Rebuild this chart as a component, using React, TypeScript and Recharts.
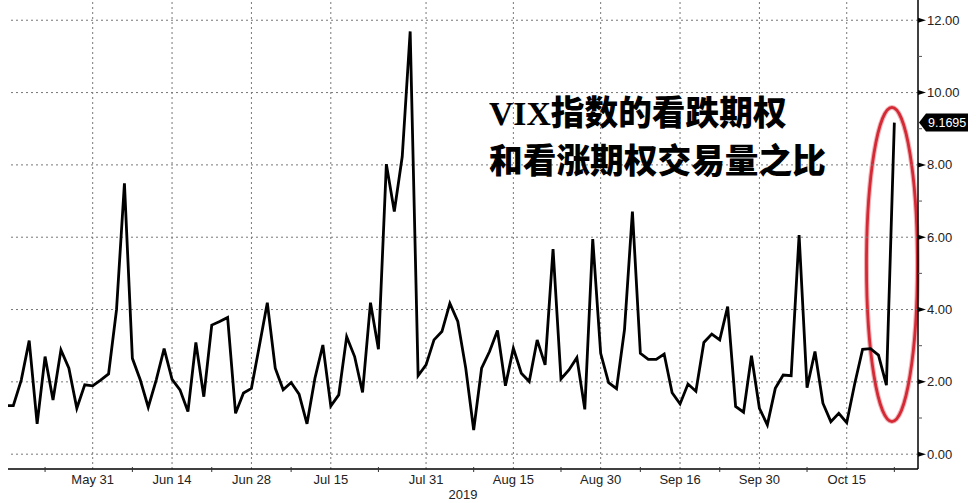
import React from 'react';
import { LineChart, Line, XAxis, YAxis, ReferenceLine, ReferenceArea } from 'recharts';

// trading days, May 15 - Oct 23 2019
const dates = [
  'May 15', 'May 16', 'May 17', 'May 20', 'May 21', 'May 22', 'May 23', 'May 24', 'May 28', 'May 29', 'May 30', 'May 31',
  'Jun 3', 'Jun 4', 'Jun 5', 'Jun 6', 'Jun 7', 'Jun 10', 'Jun 11', 'Jun 12', 'Jun 13', 'Jun 14',
  'Jun 17', 'Jun 18', 'Jun 19', 'Jun 20', 'Jun 21', 'Jun 24', 'Jun 25', 'Jun 26', 'Jun 27', 'Jun 28',
  'Jul 1', 'Jul 2', 'Jul 3', 'Jul 5', 'Jul 8', 'Jul 9', 'Jul 10', 'Jul 11', 'Jul 12', 'Jul 15',
  'Jul 16', 'Jul 17', 'Jul 18', 'Jul 19', 'Jul 22', 'Jul 23', 'Jul 24', 'Jul 25', 'Jul 26', 'Jul 29', 'Jul 30', 'Jul 31',
  'Aug 1', 'Aug 2', 'Aug 5', 'Aug 6', 'Aug 7', 'Aug 8', 'Aug 9', 'Aug 12', 'Aug 13', 'Aug 14', 'Aug 15',
  'Aug 16', 'Aug 19', 'Aug 20', 'Aug 21', 'Aug 22', 'Aug 23', 'Aug 26', 'Aug 27', 'Aug 28', 'Aug 29', 'Aug 30',
  'Sep 3', 'Sep 4', 'Sep 5', 'Sep 6', 'Sep 9', 'Sep 10', 'Sep 11', 'Sep 12', 'Sep 13', 'Sep 16',
  'Sep 17', 'Sep 18', 'Sep 19', 'Sep 20', 'Sep 23', 'Sep 24', 'Sep 25', 'Sep 26', 'Sep 27', 'Sep 30',
  'Oct 1', 'Oct 2', 'Oct 3', 'Oct 4', 'Oct 7', 'Oct 8', 'Oct 9', 'Oct 10', 'Oct 11', 'Oct 14', 'Oct 15',
  'Oct 16', 'Oct 17', 'Oct 18', 'Oct 21', 'Oct 22', 'Oct 23',
];

// put/call volume ratio
const ratio = [
  1.34, 1.34, 2.05, 3.14, 0.84, 2.70, 1.50, 2.88, 2.38, 1.27, 1.92, 1.89,
  2.05, 2.22, 3.99, 7.49, 2.65, 2.05, 1.30, 2.05, 2.92, 2.07,
  1.78, 1.18, 3.09, 1.59, 3.57, 3.67, 3.78, 1.13, 1.69, 1.82,
  3.00, 4.19, 2.38, 1.78, 1.98, 1.66, 0.84, 2.10, 3.02, 1.33,
  1.64, 3.25, 2.70, 1.71, 4.19, 2.90, 8.02, 6.71, 8.23, 11.69, 2.17, 2.47,
  3.16, 3.39, 4.17, 3.67, 2.38, 0.67, 2.38, 2.84, 3.42, 1.89, 2.93,
  2.24, 2.01, 3.16, 2.47, 5.67, 2.08, 2.33, 2.67, 1.24, 5.95, 2.79,
  1.98, 1.81, 3.44, 6.71, 2.79, 2.62, 2.62, 2.77, 1.70, 1.39,
  1.94, 1.74, 3.09, 3.32, 3.16, 4.08, 1.32, 1.16, 2.72, 1.27,
  0.81, 1.82, 2.19, 2.17, 6.06, 1.84, 2.84, 1.41, 0.90, 1.13, 0.87,
  1.94, 2.90, 2.92, 2.74, 1.91, 9.1695,
];

const majorDates = ['May 31', 'Jun 14', 'Jun 28', 'Jul 15', 'Jul 31', 'Aug 15', 'Aug 30', 'Sep 16', 'Sep 30', 'Oct 15'];
const minorDates = ['May 22', 'Jun 7', 'Jun 21', 'Jul 8', 'Jul 23', 'Aug 8', 'Aug 23', 'Sep 9', 'Sep 23', 'Oct 8', 'Oct 23'];
const yMajor = [0, 2, 4, 6, 8, 10, 12];
const yMinor = [1, 3, 5, 7, 9, 11];
const yearLabel = '2019';
const titleLines = ['VIX指数的看跌期权', '和看涨期权交易量之比'];

const data = dates.map((d, i) => ({ i, date: d, v: ratio[i] }));
const lastIdx = data.length - 1;
const lastValue = ratio[lastIdx];

const majorIdx = majorDates.map(d => dates.indexOf(d));
const minorIdx = minorDates.map(d => dates.indexOf(d));
const xTicks = [...majorIdx, ...minorIdx].sort((a, b) => a - b);
const yTicks = [...yMajor, ...yMinor].sort((a, b) => a - b);

const axisFont = "'Liberation Sans', Arial, sans-serif";

const XTick = (props: any) => {
  const { x, y, payload } = props;
  const k = majorIdx.indexOf(payload.value);
  if (k >= 0) {
    return (
      <text x={x} y={y + 15} textAnchor="middle" fontSize={13} fontFamily={axisFont} fill="#222">
        {majorDates[k]}
      </text>
    );
  }
  return <line x1={x} x2={x} y1={y - 2} y2={y + 3} stroke="#333" strokeWidth={1} />;
};

const YTick = (props: any) => {
  const { x, y, payload } = props;
  if (payload.value % 2 !== 0) {
    return <line x1={x} x2={x + 4} y1={y} y2={y} stroke="#555" strokeWidth={1} />;
  }
  return (
    <g>
      <polygon points={`${x},${y - 2.5} ${x + 8},${y} ${x},${y + 2.5}`} fill="#000" />
      <text x={x + 9} y={y} dy="0.35em" fontSize={13} fontFamily={axisFont} fill="#222">
        {payload.value.toFixed(2)}
      </text>
    </g>
  );
};

const LastTag = (props: any) => {
  const vb = props.viewBox;
  const x0 = vb.x + vb.width + 1;
  const y = vb.y;
  return (
    <g>
      <polygon
        points={`${x0},${y} ${x0 + 7},${y - 9} ${x0 + 49},${y - 9} ${x0 + 49},${y + 9} ${x0 + 7},${y + 9}`}
        fill="#000"
      />
      <text x={x0 + 9} y={y} dy="0.35em" fontSize={12.5} fontFamily={axisFont} fill="#fff">
        {lastValue.toFixed(4)}
      </text>
    </g>
  );
};

const Ellipse = (props: any) => {
  const { x, y, width, height } = props;
  const cx = x + width / 2;
  const cy = y + height / 2;
  return (
    <g>
      <ellipse cx={cx} cy={cy} rx={width / 2 - 1.5} ry={height / 2 - 1.5} fill="none" stroke="#f0b4b8" strokeWidth={5} />
      <ellipse cx={cx} cy={cy} rx={width / 2 - 1.5} ry={height / 2 - 1.5} fill="none" stroke="#d42a35" strokeWidth={2.8} />
    </g>
  );
};

export default function App() {
  return (
    <div style={{ position: 'absolute', left: 0, top: 0, width: 976, height: 503, background: '#fff' }}>
      <LineChart width={976} height={503} data={data} margin={{ top: 0, right: 0, bottom: 0, left: 8 }}>
        {yMajor.map(v => (
          <ReferenceLine key={'h' + v} y={v} stroke="#777" strokeDasharray="2 3" strokeWidth={1} />
        ))}
        {majorIdx.map(v => (
          <ReferenceLine key={'v' + v} x={v} stroke="#777" strokeDasharray="2 3" strokeWidth={1} />
        ))}
        <XAxis
          type="number"
          dataKey="i"
          domain={[0.33, 114.98]}
          allowDataOverflow
          ticks={xTicks}
          interval={0}
          tick={<XTick />}
          tickLine={false}
          tickSize={0}
          tickMargin={0}
          height={34}
          axisLine={{ stroke: '#000', strokeWidth: 1.5 }}
          label={{ value: yearLabel, position: 'insideBottom', offset: 4, fontSize: 13, fontFamily: axisFont, fill: '#222' }}
        />
        <YAxis
          orientation="right"
          type="number"
          domain={[-0.41, 12.56]}
          ticks={yTicks}
          interval={0}
          tick={<YTick />}
          tickLine={false}
          tickSize={0}
          tickMargin={0}
          width={58}
          axisLine={{ stroke: '#000', strokeWidth: 1.5 }}
        />
        <ReferenceArea
          x1={lastIdx - 3.7}
          x2={lastIdx + 3.1}
          y1={0.86}
          y2={9.63}
          ifOverflow="visible"
          shape={<Ellipse />}
        />
        <Line
          type="linear"
          dataKey="v"
          stroke="#000"
          strokeWidth={2.8}
          dot={false}
          activeDot={false}
          isAnimationActive={false}
        />
        <ReferenceLine y={lastValue} stroke="none" label={(p: any) => <LastTag {...p} />} />
      </LineChart>
      <div
        style={{
          position: 'absolute',
          left: 489,
          top: 90,
          fontFamily: "'Liberation Serif', 'Noto Sans CJK SC', serif",
          fontWeight: 900,
          fontSize: 33.7,
          lineHeight: '48px',
          color: '#000',
          whiteSpace: 'nowrap',
        }}
      >
        {titleLines.map(t => (
          <div key={t}>{t}</div>
        ))}
      </div>
    </div>
  );
}
